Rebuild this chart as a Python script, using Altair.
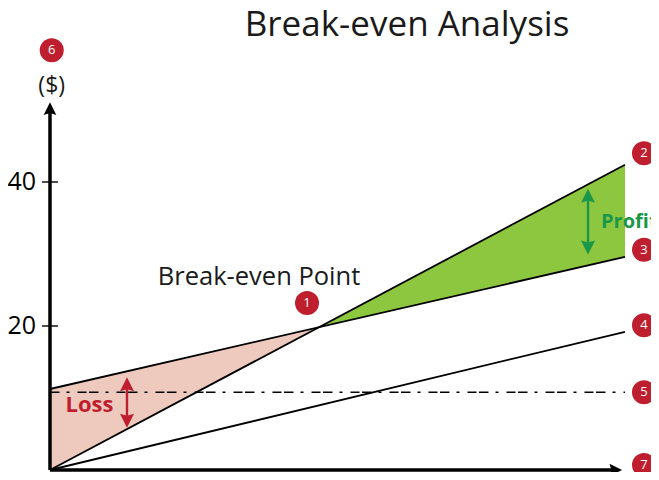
import altair as alt
import pandas as pd

# ---------------- data ----------------
quantity = [0.0, 10.0]            # start / end of the output range
revenue = [0.0, 42.4]             # total revenue line
total_cost = [11.25, 29.6]        # total cost line (fixed + variable)
variable_cost = [0.0, 19.2]       # variable cost line
fixed_cost = 10.8                 # fixed cost (dash-dot line)
y_ticks = [20, 40]
y_tick_labels = ["20", "40"]
y_axis_top = 50.2                 # where the y-axis arrow sits
x_axis_end = 9.84                 # where the x-axis arrow sits

badge_labels = ["1", "2", "3", "4", "5", "6", "7"]
badge_q = [4.47, 10.33, 10.33, 10.33, 10.33, 0.03, 10.33]
badge_v = [23.2, 44.0, 30.6, 20.1, 10.8, 58.3, 0.7]

title_text = "Break-even Analysis"
be_label = "Break-even Point"
unit_label = "($)"
loss_label = "Loss"
profit_label = "Profit"

# ---------------- layout ----------------
W, H = 643, 464
XS = alt.Scale(domain=[-0.7304, 10.4522], nice=False, zero=False)
YS = alt.Scale(domain=[-0.2778, 64.167], nice=False, zero=False)

RED = "#BE1E2D"
GREEN = "#1A9748"
FONT = "Open Sans"


def X(f="q"):
    return alt.X(f"{f}:Q", scale=XS, axis=None)


def Y(f="v"):
    return alt.Y(f"{f}:Q", scale=YS, axis=None)


# break-even point from the two lines
r_slope = (revenue[1] - revenue[0]) / (quantity[1] - quantity[0])
tc_slope = (total_cost[1] - total_cost[0]) / (quantity[1] - quantity[0])
q_be = (total_cost[0] - revenue[0]) / (r_slope - tc_slope)
v_be = revenue[0] + r_slope * q_be

loss_df = pd.DataFrame({
    "q": [quantity[0], q_be],
    "top": [total_cost[0], v_be],
    "bot": [revenue[0], v_be],
})
profit_df = pd.DataFrame({
    "q": [q_be, quantity[1]],
    "top": [v_be, revenue[1]],
    "bot": [v_be, total_cost[1]],
})

loss_area = alt.Chart(loss_df).mark_area(color="#EDC9BE").encode(
    x=X(), y=Y("top"), y2="bot:Q")
profit_area = alt.Chart(profit_df).mark_area(color="#8DC63F").encode(
    x=X(), y=Y("top"), y2="bot:Q")

lines_df = pd.DataFrame({
    "series": ["revenue"] * 2 + ["total"] * 2 + ["variable"] * 2,
    "q": quantity * 3,
    "v": revenue + total_cost + variable_cost,
})
lines = alt.Chart(lines_df).mark_line(color="black", strokeWidth=1.8).encode(
    x=X(), y=Y(), detail="series:N")

fixed_df = pd.DataFrame({"q": [quantity[0]], "q2": [quantity[1]], "v": [fixed_cost]})
fixed = alt.Chart(fixed_df).mark_rule(
    color="black", strokeWidth=1.7, strokeDash=[9.5, 7, 3, 8, 9, 2.5]).encode(
    x=X(), x2="q2:Q", y=Y())

# axes with arrows
axes_df = pd.DataFrame({
    "q": [0.0, 0.0], "q2": [0.0, x_axis_end],
    "v": [0.0, 0.0], "v2": [y_axis_top, 0.0],
})
axes = alt.Chart(axes_df).mark_rule(color="black", strokeWidth=3.5).encode(
    x=X(), x2="q2:Q", y=Y(), y2="v2:Q")

up_arrow = alt.Chart(pd.DataFrame({"q": [0.0], "v": [y_axis_top]})).mark_point(
    shape="M0,-1L1,1L0,0.7L-1,1Z", size=160, filled=True, color="black", opacity=1).encode(
    x=X(), y=Y())
right_arrow = alt.Chart(pd.DataFrame({"q": [x_axis_end], "v": [0.0]})).mark_point(
    shape="M1,0L-1,-1L-0.7,0L-1,1Z", size=160, filled=True, color="black", opacity=1).encode(
    x=X(), y=Y())

ticks_df = pd.DataFrame({"q": [0.0] * len(y_ticks), "v": y_ticks, "label": y_tick_labels})
ticks = alt.Chart(ticks_df).mark_tick(
    orient="horizontal", size=16, thickness=2, color="black").encode(x=X(), y=Y())
tick_labels = alt.Chart(ticks_df).mark_text(
    align="right", baseline="middle", dx=-14, fontSize=25, font=FONT, color="black").encode(
    x=X(), y=Y(), text="label:N")

# double-headed arrows for loss / profit
loss_q, loss_top, loss_bot = 1.339, 12.9, 5.85
prof_q, prof_top, prof_bot = 9.357, 39.1, 29.9


def double_arrow(q, top, bot, color):
    shaft = alt.Chart(pd.DataFrame({"q": [q], "v": [top - 1.2], "v2": [bot + 1.2]})).mark_rule(
        color=color, strokeWidth=2.4).encode(x=X(), y=Y(), y2="v2:Q")
    up = alt.Chart(pd.DataFrame({"q": [q], "v": [top - 1.0]})).mark_point(
        shape="M0,-1L1,1L0,0.7L-1,1Z", size=196, filled=True, color=color, opacity=1).encode(
        x=X(), y=Y())
    down = alt.Chart(pd.DataFrame({"q": [q], "v": [bot + 1.0]})).mark_point(
        shape="M0,1L1,-1L0,-0.7L-1,-1Z", size=196, filled=True, color=color, opacity=1).encode(
        x=X(), y=Y())
    return [shaft, up, down]


title_t = alt.Chart(pd.DataFrame({"q": [6.209], "v": [60.3], "label": [title_text]})).mark_text(
    fontSize=35, font=FONT, align="center", baseline="alphabetic", color="#1a1a1a").encode(
    x=X(), y=Y(), text="label:N")
be_t = alt.Chart(pd.DataFrame({"q": [3.635], "v": [26.8], "label": [be_label]})).mark_text(
    fontSize=25.5, font=FONT, align="center", baseline="middle", color="#1a1a1a").encode(
    x=X(), y=Y(), text="label:N")
unit_t = alt.Chart(pd.DataFrame({"q": [0.03], "v": [53.3], "label": [unit_label]})).mark_text(
    fontSize=23, font=FONT, align="center", baseline="middle", color="#1a1a1a").encode(
    x=X(), y=Y(), text="label:N")

loss_t = alt.Chart(pd.DataFrame({"q": [0.687], "v": [9.03], "label": [loss_label]})).mark_text(
    fontSize=22, font=FONT, fontWeight="bold", align="center", baseline="middle", color=RED).encode(
    x=X(), y=Y(), text="label:N")
profit_t = alt.Chart(pd.DataFrame({"q": [9.583], "v": [34.44], "label": [profit_label]})).mark_text(
    fontSize=20, font=FONT, fontWeight="bold", align="left", baseline="middle", color=GREEN).encode(
    x=X(), y=Y(), text="label:N")

badges_df = pd.DataFrame({"q": badge_q, "v": badge_v, "label": badge_labels})
badge_dots = alt.Chart(badges_df).mark_point(
    shape="circle", size=576, filled=True, color=RED, opacity=1).encode(x=X(), y=Y())
badge_nums = alt.Chart(badges_df).mark_text(
    fontSize=13, font=FONT, color="white", align="center", baseline="middle").encode(
    x=X(), y=Y(), text="label:N")

layers = [loss_area, profit_area, fixed, lines, axes, up_arrow, right_arrow, ticks, tick_labels]
layers += double_arrow(loss_q, loss_top, loss_bot, RED)
layers += double_arrow(prof_q, prof_top, prof_bot, GREEN)
layers += [title_t, be_t, unit_t, loss_t, profit_t, badge_dots, badge_nums]

chart = alt.layer(*layers).properties(
    width=W, height=H, padding=0, autosize=alt.AutoSizeParams(type="none"),
    background="white",
).configure_view(stroke=None)

chart.save("out.html", embed_options={"renderer": "svg", "actions": False})
